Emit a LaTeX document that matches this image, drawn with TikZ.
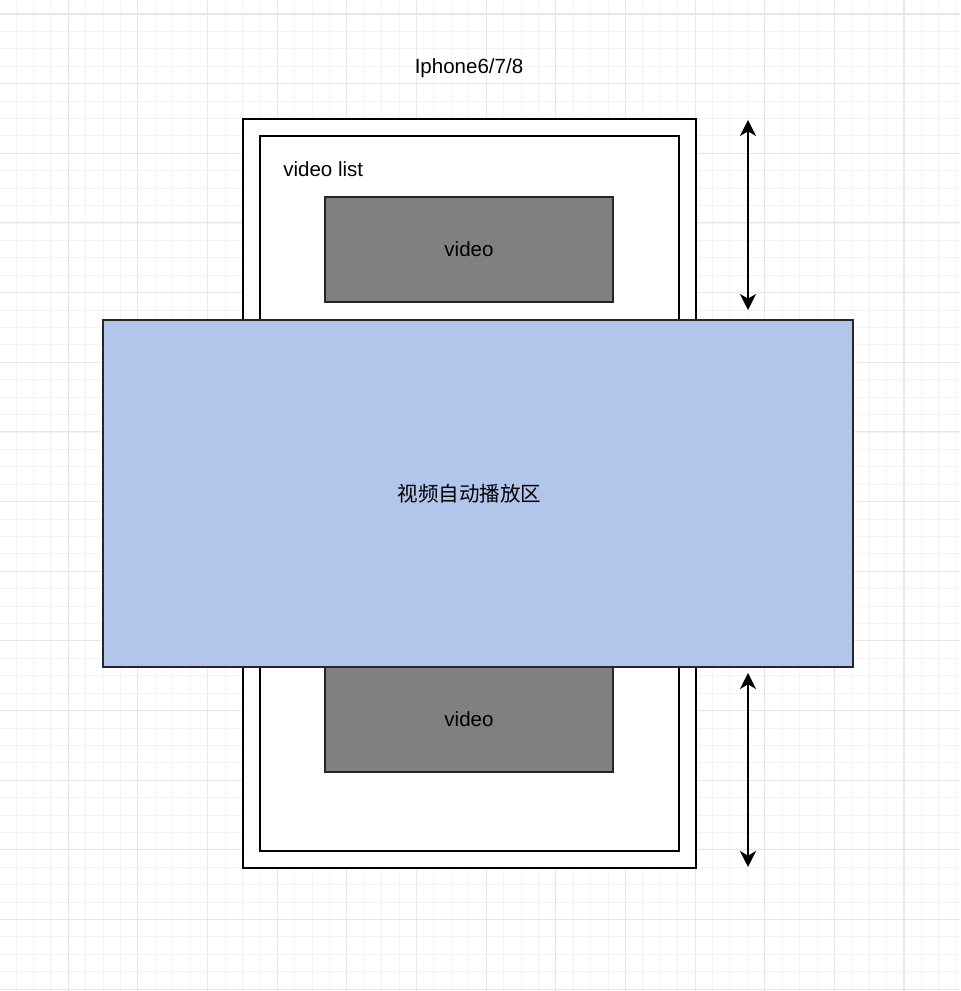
\documentclass[tikz,border=0pt]{standalone}
\usepackage{fontspec}
\setmainfont{Liberation Sans}
\newfontfamily\cjk{Noto Sans CJK SC}
\usetikzlibrary{arrows.meta}
\definecolor{playblue}{RGB}{177,198,234}
\definecolor{vidgray}{RGB}{128,128,128}
\definecolor{gridminor}{RGB}{244,244,244}
\definecolor{gridmajor}{RGB}{231,231,231}
\tikzset{
  box/.style={draw=black, line width=1.5pt, fill=white, inner sep=0pt},
  vidbox/.style={draw=black!85, line width=1.1pt, fill=vidgray, inner sep=0pt},
  playbox/.style={draw=black!85, line width=1.1pt, fill=playblue, inner sep=0pt},
  lbl/.style={inner sep=0pt, font=\fontsize{15.4}{18}\selectfont},
  dbl/.style={line width=1.4pt, {Stealth[length=12pt,width=12pt,inset=3.5pt]}-{Stealth[length=12pt,width=12pt,inset=3.5pt]}},
  gmin/.style={draw=gridminor, line width=0.6pt},
  gmaj/.style={draw=gridmajor, line width=0.8pt}
}
\begin{document}
\begin{tikzpicture}[x=0.75pt,y=-0.75pt]
\useasboundingbox (0,0) rectangle (960,991);
\fill[white] (0,0) rectangle (960,991);
% grid
\foreach \i in {0,...,55} { \draw[gmin] ({15.97+17.4125*\i},0) -- ({15.97+17.4125*\i},991); }
\foreach \i in {0,...,57} { \draw[gmin] (0,{14+17.4125*\i}) -- (960,{14+17.4125*\i}); }
\foreach \i in {0,...,13} { \draw[gmaj] ({68.2+69.65*\i},0) -- ({68.2+69.65*\i},991); }
\foreach \i in {0,...,14} { \draw[gmaj] (0,{14+69.65*\i}) -- (960,{14+69.65*\i}); }
% title
\node[lbl] (title) at (469,68) {Iphone6/7/8};
% phone and list
\node[box, minimum width={453*0.75pt}, minimum height={749*0.75pt}] (phone) at (469.5,493.5) {};
\node[box, minimum width={419*0.75pt}, minimum height={715*0.75pt}] (list) at (469.5,493.5) {};
\node[lbl, anchor=west] (listlbl) at (283,169) {video list};
% videos
\node[vidbox, minimum width={288*0.75pt}, minimum height={105*0.75pt}] (vtop) at (469,249.5) {};
\node[lbl] (vtoplbl) at (vtop.center) {video};
\node[vidbox, minimum width={288*0.75pt}, minimum height={105*0.75pt}] (vbot) at (469,719.5) {};
\node[lbl] (vbotlbl) at (vbot.center) {video};
% play area
\node[playbox, minimum width={750*0.75pt}, minimum height={347*0.75pt}] (play) at (478,493.5) {};
\node[lbl] (playlbl) at (469.5,494) {\cjk 视频自动播放区};
% arrows
\coordinate (a1s) at (748,120);
\coordinate (a1e) at (748,310);
\coordinate (a2s) at (748,673);
\coordinate (a2e) at (748,867);
\draw[dbl] (a1s) -- (a1e);
\draw[dbl] (a2s) -- (a2e);
\end{tikzpicture}
\end{document}
